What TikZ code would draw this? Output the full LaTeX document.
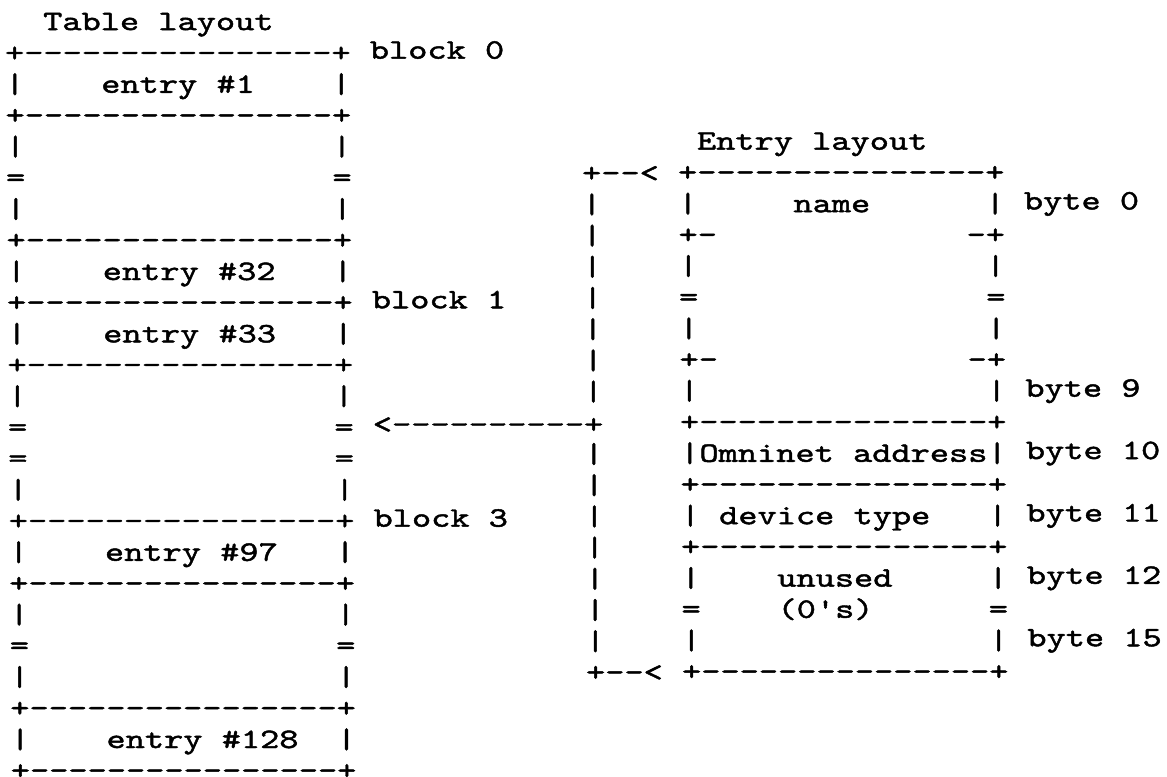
\documentclass[tikz,border=0pt]{standalone}
\usepackage{fontspec}
\usepackage{tikz}
\newfontfamily\tabfont[FakeStretch=1.3,FakeBold=1.6]{lmmono10-regular.otf}

\begin{document}
\begin{tikzpicture}[x=14.4pt,y=-23.4pt,
		ascii/.style={anchor=base west,inner sep=0pt,outer sep=0pt,
			font=\tabfont\fontsize{21.1pt}{24pt}\selectfont}]
	\path[fill=white,use as bounding box] (-3.6pt,22.8pt) rectangle (871.65pt,-559.2pt);
	% slight skew of the scanned page
	\begin{scope}[cm={1,0.008,-0.008,1,(0,0)}]
		% table layout
		\node [ascii] (ttitle) at (2,0) {Table layout};
		\node [ascii] (t1) at (0,1) {+----------------+};
		\node [ascii] (blk0) at (19,1) {block 0};
		\node [ascii] (t2) at (0,2) {|~~~~entry~\#1~~~~|};
		\node [ascii] (t3) at (0,3) {+----------------+};
		\node [ascii] (t4) at (0,4) {|~~~~~~~~~~~~~~~~|};
		\node [ascii] (t5) at (0,5) {=~~~~~~~~~~~~~~~~=};
		\node [ascii] (t6) at (0,6) {|~~~~~~~~~~~~~~~~|};
		\node [ascii] (t7) at (0,7) {+----------------+};
		\node [ascii] (t8) at (0,8) {|~~~~entry~\#32~~~|};
		\node [ascii] (t9) at (0,9) {+----------------+};
		\node [ascii] (blk1) at (19,9) {block 1};
		\node [ascii] (t10) at (0,10) {|~~~~entry~\#33~~~|};
		\node [ascii] (t11) at (0,11) {+----------------+};
		\node [ascii] (t12) at (0,12) {|~~~~~~~~~~~~~~~~|};
		\node [ascii] (t13) at (0,13) {=~~~~~~~~~~~~~~~~=};
		\node [ascii] (ptr) at (19,13) {<----------+};
		\node [ascii] (t14) at (0,14) {=~~~~~~~~~~~~~~~~=};
		\node [ascii] (t15) at (0,15) {|~~~~~~~~~~~~~~~~|};
		\node [ascii] (t16) at (0,16) {+----------------+};
		\node [ascii] (blk3) at (19,16) {block 3};
		\node [ascii] (t17) at (0,17) {|~~~~entry~\#97~~~|};
		\node [ascii] (t18) at (0,18) {+----------------+};
		\node [ascii] (t19) at (0,19) {|~~~~~~~~~~~~~~~~|};
		\node [ascii] (t20) at (0,20) {=~~~~~~~~~~~~~~~~=};
		\node [ascii] (t21) at (0,21) {|~~~~~~~~~~~~~~~~|};
		\node [ascii] (t22) at (0,22) {+----------------+};
		\node [ascii] (t23) at (0,23) {|~~~~entry~\#128~~|};
		\node [ascii] (t24) at (0,24) {+----------------+};

		% entry layout
		\node [ascii] (etitle) at (36,4) {Entry layout};
		\node [ascii] (brtop) at (30,5) {+--<};
		\foreach \r in {6,...,12,14,15,...,20}
			\node [ascii] (br\r) at (30,\r) {|};
		\node [ascii] (brbot) at (30,21) {+--<};
		\node [ascii] (e5) at (35,5) {+---------------+};
		\node [ascii] (e6) at (35,6) {|~~~~~name~~~~~~|};
		\node [ascii] (e7) at (35,7) {+-~~~~~~~~~~~~~-+};
		\node [ascii] (e8) at (35,8) {|~~~~~~~~~~~~~~~|};
		\node [ascii] (e9) at (35,9) {=~~~~~~~~~~~~~~~=};
		\node [ascii] (e10) at (35,10) {|~~~~~~~~~~~~~~~|};
		\node [ascii] (e11) at (35,11) {+-~~~~~~~~~~~~~-+};
		\node [ascii] (e12) at (35,12) {|~~~~~~~~~~~~~~~|};
		\node [ascii] (e13) at (35,13) {+---------------+};
		\node [ascii] (e14) at (35,14) {|Omninet~address|};
		\node [ascii] (e15) at (35,15) {+---------------+};
		\node [ascii] (e16) at (35,16) {|~device~type~~~|};
		\node [ascii] (e17) at (35,17) {+---------------+};
		\node [ascii] (e18) at (35,18) {|~~~~unused~~~~~|};
		\node [ascii] (e19) at (35,19) {=~~~~(0's)~~~~~~=};
		\node [ascii] (e20) at (35,20) {|~~~~~~~~~~~~~~~|};
		\node [ascii] (e21) at (35,21) {+---------------+};

		% byte offsets
		\node [ascii] (by0) at (53,6) {byte 0};
		\node [ascii] (by9) at (53,12) {byte 9};
		\node [ascii] (by10) at (53,14) {byte 10};
		\node [ascii] (by11) at (53,16) {byte 11};
		\node [ascii] (by12) at (53,18) {byte 12};
		\node [ascii] (by15) at (53,20) {byte 15};
	\end{scope}
\end{tikzpicture}
\end{document}
